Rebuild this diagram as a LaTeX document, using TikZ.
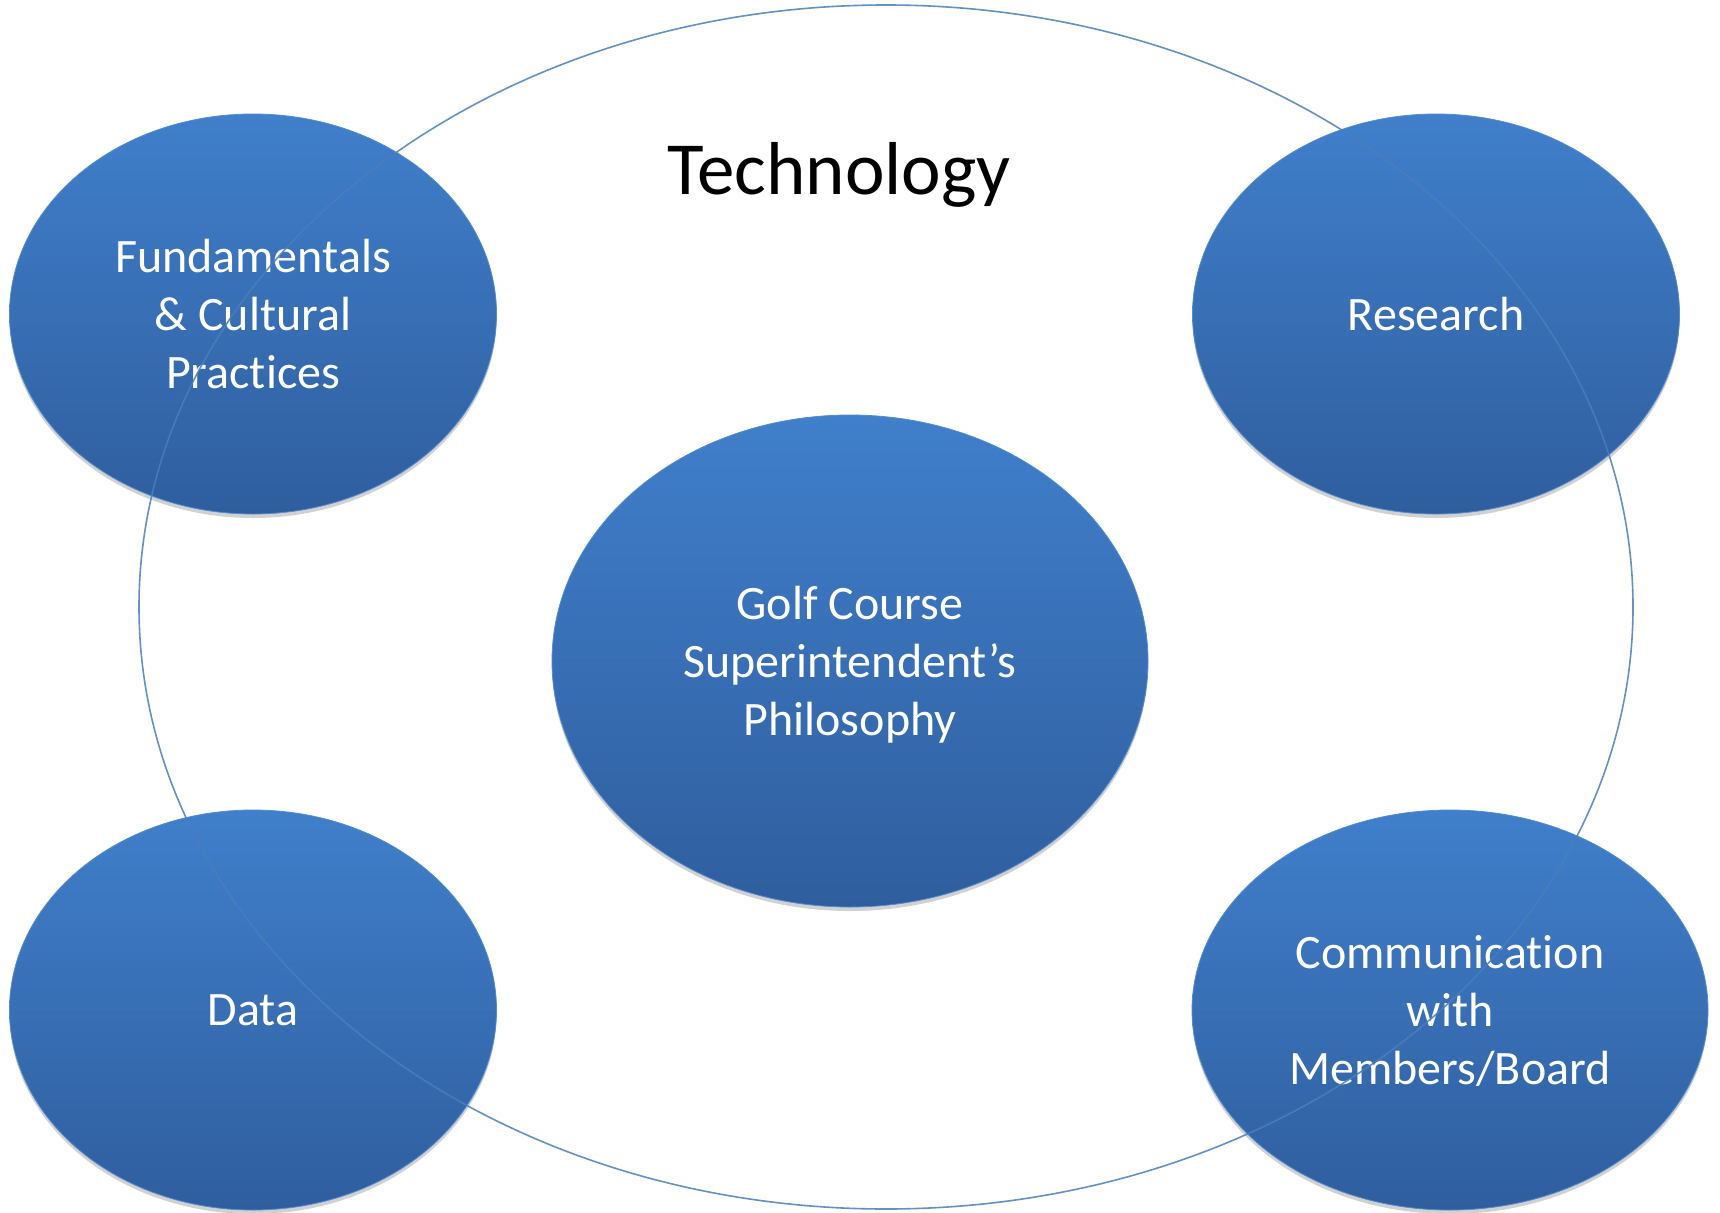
\documentclass[tikz,border=0pt]{standalone}
\usepackage{fontspec}
\setmainfont{Carlito}[Ligatures=NoCommon]
\usetikzlibrary{shapes.geometric,shadows}
\definecolor{blobtop}{RGB}{64,127,203}
\definecolor{blobbot}{RGB}{47,94,158}
\definecolor{ringcol}{RGB}{74,126,187}
\tikzset{
  blob/.style={ellipse, inner sep=0pt, top color=blobtop, bottom color=blobbot,
    draw=blobtop!90!white, line width=0.8pt, text=white, align=center,
    font=\fontsize{48}{58}\selectfont,
    drop shadow={shadow xshift=0pt, shadow yshift=-4pt, opacity=0.18, fill=black}},
  small/.style={blob, minimum width=487pt, minimum height=400pt},
  lbl/.style={text=white, align=center, font=\fontsize{48}{58}\selectfont},
  ring/.style={draw=ringcol, line width=1.6pt, draw opacity=0.85}
}
\begin{document}
\begin{tikzpicture}[x=1pt,y=-1pt]
\useasboundingbox[fill=white] (0,0) rectangle (1720,1212);
\node[small] (fund) at (253,314) {Fundamentals\\\& Cultural\\Practices};
\node[small] (res) at (1436,314) {Research};
\node[small] (data) at (253,1010) {Data};
\node[blob, minimum width=516pt, minimum height=400pt] (comm) at (1450,1010) {};
\node[lbl] (commtext) at (1450,1011) {Communication\\with\\Members/Board};
\node[blob, minimum width=596pt, minimum height=492pt] (phil) at (850,661) {};
\node[lbl] (philtext) at (850,665) {Golf Course\\Superintendent’s\\Philosophy};
\coordinate (ringc) at (886,607);
\draw[ring] (ringc) ellipse [x radius=747, y radius=602];
\node[font=\fontsize{75}{90}\selectfont, text=black] (tech) at (839,175) {Technology};
\end{tikzpicture}
\end{document}
